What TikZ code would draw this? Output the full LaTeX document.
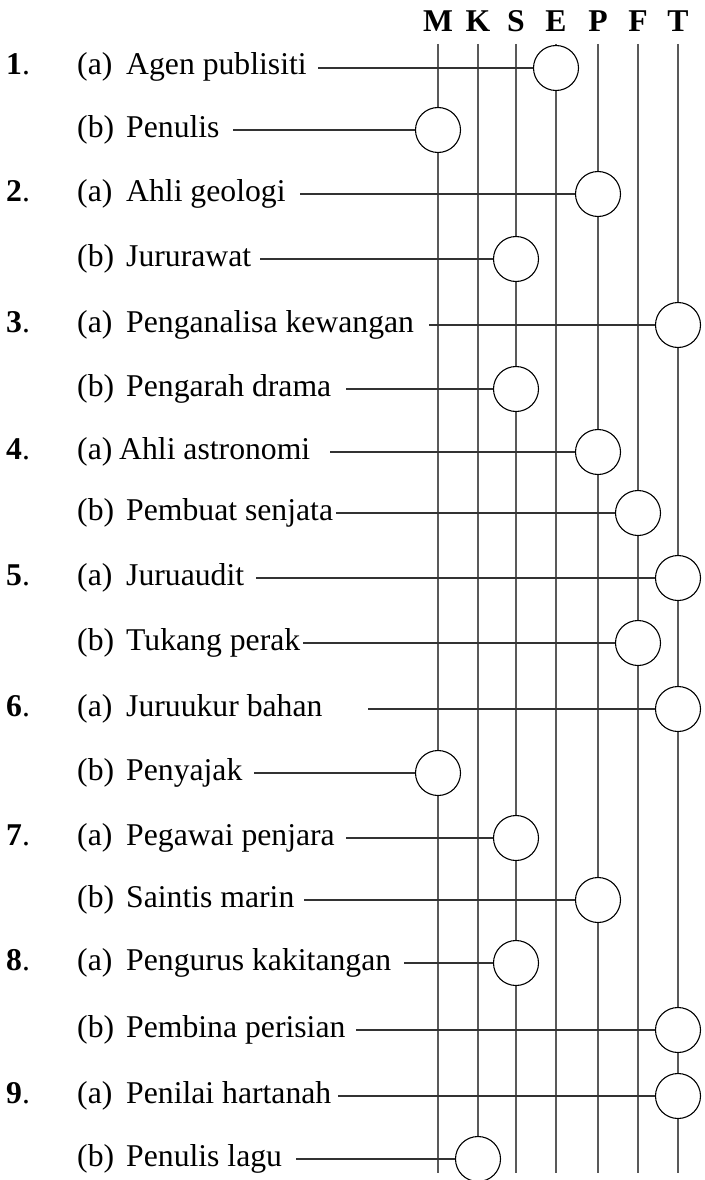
\documentclass[tikz,border=0pt]{standalone}
\usepackage{fontspec}
\setmainfont{Liberation Serif}
\begin{document}
\begin{tikzpicture}[x=1pt,y=1pt,
  vline/.style={draw=black!65, line width=1.4pt},
  hline/.style={draw=black!80, line width=1.3pt},
  dot/.style={circle, draw=black, line width=1.1pt, fill=white, minimum size=45pt, inner sep=0pt},
  lbl/.style={anchor=base west, inner sep=0pt, font=\fontsize{31.7}{36}\selectfont},
  head/.style={anchor=base, inner sep=0pt, font=\fontsize{31.7}{36}\selectfont\bfseries}]
\useasboundingbox (0,0) rectangle (704,-1180);
% columns
\foreach \n/\x in {M/438,K/478,S/516,E/556,P/598,F/638,T/678}{
  \node[head] (h\n) at (\x,-32) {\n};
  \coordinate (top\n) at (\x,-44);
  \coordinate (bot\n) at (\x,-1173);
  \draw[vline] (top\n) -- (bot\n);
}
% numbers
\foreach \k/\y in {1/68,2/194,3/325,4/452,5/578,6/709,7/838,8/963,9/1096}{
  \node[lbl] (num\k) at (6,{-\y-7}) {\textbf{\k}.};
}
% rows
\foreach \id/\y/\cx/\s/\p/\nx/\t in {
  1a/68/556/318/a/126/Agen publisiti,
  1b/130/438/233/b/126/Penulis,
  2a/194/598/300/a/126/Ahli geologi,
  2b/259/516/260/b/126/Jururawat,
  3a/325/678/429/a/126/Penganalisa kewangan,
  3b/389/516/346/b/126/Pengarah drama,
  4a/452/598/330/a/119/Ahli astronomi,
  4b/513/638/336/b/126/Pembuat senjata,
  5a/578/678/256/a/126/Juruaudit,
  5b/643/638/303/b/126/Tukang perak,
  6a/709/678/368/a/126/Juruukur bahan,
  6b/773/438/254/b/126/Penyajak,
  7a/838/516/346/a/126/Pegawai penjara,
  7b/900/598/304/b/126/Saintis marin,
  8a/963/516/404/a/126/Pengurus kakitangan,
  8b/1030/678/356/b/126/Pembina perisian,
  9a/1096/678/338/a/126/Penilai hartanah,
  9b/1159/478/296/b/126/Penulis lagu}{
  \node[lbl] (p\id) at (77,{-\y-7}) {(\p)};
  \node[lbl] (t\id) at (\nx,{-\y-7}) {\t};
  \node[dot] (c\id) at (\cx,-\y) {};
  \coordinate (s\id) at (\s,-\y);
  \draw[hline] (s\id) -- (c\id.west);
}
\end{tikzpicture}
\end{document}
